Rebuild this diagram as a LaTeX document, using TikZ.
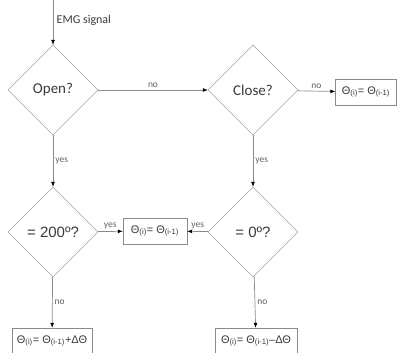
\documentclass[tikz,border=0pt]{standalone}
\usepackage{fontspec}
\setmainfont{Carlito}
\newfontfamily\arialfont{Liberation Sans}
\usetikzlibrary{shapes.geometric,arrows.meta}
\definecolor{linegray}{HTML}{8A8A8A}
\definecolor{textgray}{HTML}{3A3A3A}
\begin{document}
\begin{tikzpicture}[x=1pt,y=-1pt,
    decision/.style={diamond,draw=linegray,aspect=1,inner sep=0pt,minimum size=90pt,text=textgray,font=\fontsize{15}{17}\selectfont},
    result/.style={rectangle,draw=linegray,inner sep=0pt,minimum height=26pt,text=textgray,font=\arialfont\fontsize{11}{13}\selectfont},
    lbl/.style={text=textgray!80,font=\fontsize{9.5}{11}\selectfont,inner sep=2pt},
    every edge/.style={draw=linegray,line width=0.7pt},
    >={Latex[length=5pt,width=4pt,black]}]
            \useasboundingbox (0,0) rectangle (397,353);

            \coordinate (start) at (53,0);
            \node[decision] (open) at (53,90) {Open?};
            \node[decision] (close) at (253,90) {Close?};
            \node[decision,font=\arialfont\fontsize{15}{17}\selectfont] (max) at (53,232) {= 200º?};
            \node[decision,font=\arialfont\fontsize{15}{17}\selectfont] (min) at (253,232) {= 0º?};

            \node[result,minimum width=61pt] (hold1) at (366,92) {Θ\textsubscript{(i)}= Θ\textsubscript{(i-1)}};
            \node[result,minimum width=64pt] (hold2) at (155,231) {Θ\textsubscript{(i)}= Θ\textsubscript{(i-1)}};
            \node[result,minimum width=80pt] (up) at (52,341) {Θ\textsubscript{(i)}= Θ\textsubscript{(i-1)}+ΔΘ};
            \node[result,minimum width=82pt] (down) at (256,341) {Θ\textsubscript{(i)}= Θ\textsubscript{(i-1)}–ΔΘ};

            \path [->] (start) edge node[right,text=textgray,font=\fontsize{12}{14}\selectfont,pos=0.45] {EMG signal} (open);
            \path [->] (open) edge node[lbl,above] {no} (close);
            \path [->] (close) edge node[lbl,above] {no} (hold1);
            \path [->] (open) edge node[lbl,right] {yes} (max);
            \path [->] (close) edge node[lbl,right] {yes} (min);
            \path [->] (max) edge node[lbl,above] {yes} (hold2);
            \path [->] (min) edge node[lbl,above] {yes} (hold2);
            \path [->] (max) edge node[lbl,right] {no} (up);
            \path [->] (min) edge node[lbl,right] {no} (down);
        \end{tikzpicture}
\end{document}
